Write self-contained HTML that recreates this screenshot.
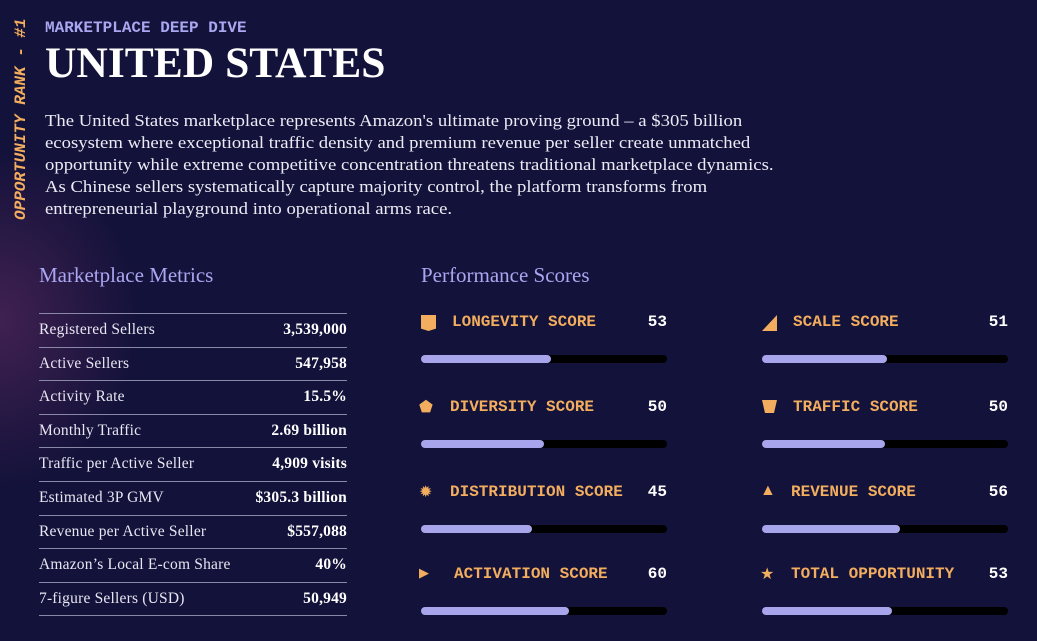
<!DOCTYPE html>
<html><head><meta charset="utf-8"><style>
body{margin:0;width:1037px;height:641px;overflow:hidden;background:#13123a;position:relative;font-family:"Liberation Serif",serif;}
.glow{position:absolute;left:0;top:150px;width:140px;height:340px;background:radial-gradient(ellipse at 0% 50%,rgba(120,50,110,0.45),rgba(19,18,58,0) 70%);}
.abs{position:absolute;white-space:nowrap;}
.mono{font-family:"Liberation Mono",monospace;font-weight:bold;}
.para{transform:scaleX(1.1);transform-origin:0 0;}
.para div{height:22px;}
.row{position:absolute;left:39px;width:308px;height:33px;border-top:1px solid #8a88a8;font-size:15.5px;color:#e8e6f2;letter-spacing:0.2px;}
.row span{position:absolute;top:7px;}
.row b{position:absolute;right:0;top:7px;color:#fff;}
</style></head><body>
<div class="glow"></div>
<div class="abs mono" style="left:12px;top:220px;transform:rotate(-90deg);transform-origin:0 0;color:#f2ad5e;font-size:16px;font-style:italic;">OPPORTUNITY RANK - #1</div>
<div class="abs mono" style="left:45px;top:19px;color:#aaa6f0;font-size:16px;">MARKETPLACE DEEP DIVE</div>
<div class="abs" style="left:45px;top:38px;color:#fff;font-size:43.5px;font-weight:bold;">UNITED STATES</div>
<div class="abs para" style="left:45px;top:110px;color:#ecebf5;font-size:17px;line-height:22px;">
<div>The United States marketplace represents Amazon's ultimate proving ground – a $305 billion</div>
<div>ecosystem where exceptional traffic density and premium revenue per seller create unmatched</div>
<div>opportunity while extreme competitive concentration threatens traditional marketplace dynamics.</div>
<div>As Chinese sellers systematically capture majority control, the platform transforms from</div>
<div>entrepreneurial playground into operational arms race.</div>
</div>
<div class="abs" style="left:39px;top:263px;color:#aaa6f0;font-size:21px;">Marketplace Metrics</div>
<div class="abs" style="left:421px;top:263px;color:#aaa6f0;font-size:21px;">Performance Scores</div>
<div id="table"></div>
<div id="scores"></div>
<div class="abs" style="left:39px;top:615px;width:308px;border-top:1px solid #8a88a8;"></div>
<script>
const metricLabels=["Registered Sellers","Active Sellers","Activity Rate","Monthly Traffic","Traffic per Active Seller","Estimated 3P GMV","Revenue per Active Seller","Amazon’s Local E-com Share","7-figure Sellers (USD)"];
const metricValues=["3,539,000","547,958","15.5%","2.69 billion","4,909 visits","$305.3 billion","$557,088","40%","50,949"];
const scoreNames=["LONGEVITY SCORE","SCALE SCORE","DIVERSITY SCORE","TRAFFIC SCORE","DISTRIBUTION SCORE","REVENUE SCORE","ACTIVATION SCORE","TOTAL OPPORTUNITY"];
const scoreValues=[53,51,50,50,45,56,60,53];
const scoreIcons=["","","⬟","","✹","▲","▶","★"];
const t=document.getElementById('table');
metricLabels.forEach((l,i)=>{
 const r=document.createElement('div');r.className='row';r.style.top=(313+i*33.6)+'px';
 
 
 r.innerHTML='<span>'+l+'</span><b>'+metricValues[i]+'</b>';t.appendChild(r);
});
const s=document.getElementById('scores');
const rowY=[313,398,483,565];
const shapes={0:'polygon(0 0,100% 0,100% 85%,50% 100%,0 85%)',1:'polygon(100% 0,100% 100%,0 100%)',3:'polygon(0 0,100% 0,80% 100%,20% 100%)'};
scoreNames.forEach((n,i)=>{
 const col=i%2,row=Math.floor(i/2);const x=col?762:421;const y=rowY[row];
 const g=document.createElement('div');g.className='abs';g.style.left=x+'px';g.style.top=y+'px';
 
 
 let icon;
 if(shapes[i]!==undefined){icon='<div style="position:absolute;left:0;top:2px;width:15px;height:'+(i==3?13:16)+'px;background:#f2ad5e;clip-path:'+shapes[i]+'"></div>';}
 else{icon='<div style="position:absolute;left:-2px;top:'+(i==6?0:-1)+'px;color:#f2ad5e;font-size:'+(i==6?13:16)+'px;">'+scoreIcons[i]+'</div>';}
 const lx=(i==6?33:(i==0||i==1||i==3?31:29));
 g.innerHTML=icon+'<div class="abs mono" style="left:'+lx+'px;top:0;color:#f2ad5e;font-size:16px;">'+n+'</div>'+
  '<div class="abs mono" style="top:0;color:#fff;font-size:16px;width:60px;text-align:right;left:186px;">'+scoreValues[i]+'</div>'+
  '<div style="position:absolute;left:0;top:42px;width:246px;height:8px;border-radius:4px;background:#000;"></div>'+
  '<div style="position:absolute;left:0;top:42px;width:'+(246*scoreValues[i]/100)+'px;height:8px;border-radius:4px;background:#a9a5ec;"></div>';
 s.appendChild(g);
});
</script>
</body></html>
